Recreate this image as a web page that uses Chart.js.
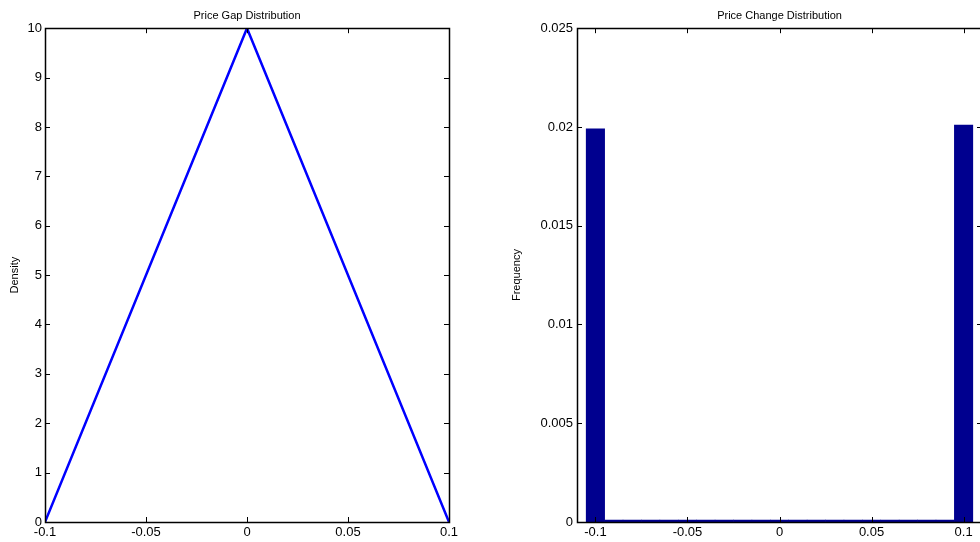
<!DOCTYPE html>
<html>
<head>
<meta charset="utf-8">
<script src="https://cdn.jsdelivr.net/npm/chart.js@4/dist/chart.umd.min.js"></script>
<style>
  html, body { margin: 0; padding: 0; background: #fff; overflow: hidden; width: 980px; height: 542px; }
  canvas { position: absolute; top: 0; }
  #gapChart { left: 0; }
  #changeChart { left: 500px; }
</style>
</head>
<body>
<canvas id="gapChart" width="494" height="542"></canvas>
<canvas id="changeChart" width="560" height="542"></canvas>
<script>
// price gap density (triangle)
const gapX = [-0.1, 0, 0.1];
const gapDensity = [0, 10, 0];

// price change histogram
const changeBins = [-0.1, -0.09, -0.08, -0.07, -0.06, -0.05, -0.04, -0.03, -0.02, -0.01, 0,
  0.01, 0.02, 0.03, 0.04, 0.05, 0.06, 0.07, 0.08, 0.09, 0.1];
const changeFreq = [0.0199, 0.0001, 0.0001, 0.0001, 0.0001, 0.0001, 0.0001, 0.0001, 0.0001, 0.0001, 0.0001,
  0.0001, 0.0001, 0.0001, 0.0001, 0.0001, 0.0001, 0.0001, 0.0001, 0.0001, 0.0201];

// tick labels
const xTicks = [-0.1, -0.05, 0, 0.05, 0.1];
const xTickLabels = ['-0.1', '-0.05', '0', '0.05', '0.1'];
const gapYTicks = [0, 1, 2, 3, 4, 5, 6, 7, 8, 9, 10];
const gapYTickLabels = ['0', '1', '2', '3', '4', '5', '6', '7', '8', '9', '10'];
const freqYTicks = [0, 0.005, 0.01, 0.015, 0.02, 0.025];
const freqYTickLabels = ['0', '0.005', '0.01', '0.015', '0.02', '0.025'];

Chart.defaults.font.family = "'Liberation Sans', Arial, sans-serif";
Chart.defaults.font.size = 11;
Chart.defaults.color = '#000';
Chart.defaults.animation = false;

// matlab style box with inward ticks
const boxTicks = {
  id: 'boxTicks',
  afterDatasetsDraw(chart) {
    const { ctx, chartArea: a, scales: { x, y } } = chart;
    const len = 5;
    ctx.save();
    ctx.strokeStyle = '#000';
    ctx.lineWidth = 1;
    ctx.beginPath();
    x.ticks.forEach(t => {
      const px = Math.round(x.getPixelForValue(t.value)) + 0.5;
      ctx.moveTo(px, a.bottom); ctx.lineTo(px, a.bottom - len);
      ctx.moveTo(px, a.top); ctx.lineTo(px, a.top + len);
    });
    y.ticks.forEach(t => {
      const py = Math.round(y.getPixelForValue(t.value)) + 0.5;
      ctx.moveTo(a.left, py); ctx.lineTo(a.left + len, py);
      ctx.moveTo(a.right, py); ctx.lineTo(a.right - len, py);
    });
    ctx.stroke();
    ctx.lineWidth = 1.5;
    ctx.strokeRect(Math.round(a.left) + 0.5, Math.round(a.top) + 0.5,
      Math.round(a.right - a.left), Math.round(a.bottom - a.top));
    ctx.restore();
  }
};

function fixedTicks(values, labels) {
  return {
    afterBuildTicks: s => { s.ticks = values.map(v => ({ value: v })); },
    ticks: { callback: (v) => labels[values.indexOf(v)] ?? '' }
  };
}

function makeOptions(cfg) {
  const xt = fixedTicks(xTicks, xTickLabels);
  const yt = fixedTicks(cfg.yTicks, cfg.yLabels);
  return {
    responsive: false,
    layout: { padding: { right: cfg.padRight, top: 0, left: 0, bottom: 0 } },
    plugins: {
      legend: { display: false },
      tooltip: { enabled: false },
      title: {
        display: true,
        fullSize: false,
        text: cfg.title,
        font: { size: 11, weight: 'normal' },
        color: '#000',
        padding: { top: 9, bottom: 6 }
      }
    },
    scales: {
      x: {
        type: 'linear',
        min: cfg.xMin,
        max: cfg.xMax,
        offset: false,
        grid: { display: false, drawTicks: false },
        border: { display: false },
        afterBuildTicks: xt.afterBuildTicks,
        afterFit: s => { s.height = 20; },
        ticks: { padding: 3, maxRotation: 0, autoSkip: false, font: { size: 13 }, callback: xt.ticks.callback }
      },
      y: {
        min: 0,
        max: cfg.yMax,
        grid: { display: false, drawTicks: false },
        border: { display: false },
        afterBuildTicks: yt.afterBuildTicks,
        afterFit: s => { s.width = cfg.yWidth; },
        ticks: { padding: cfg.yTickPad, autoSkip: false, font: { size: 13 }, callback: yt.ticks.callback },
        title: {
          display: true,
          text: cfg.yTitle,
          font: { size: 11 },
          color: '#000',
          padding: { top: cfg.yTitlePad, bottom: 0 }
        }
      }
    }
  };
}

new Chart(document.getElementById('gapChart'), {
  type: 'line',
  data: {
    datasets: [{
      data: gapX.map((x, i) => ({ x: x, y: gapDensity[i] })),
      borderColor: '#0000ff',
      borderWidth: 2.5,
      pointRadius: 0,
      tension: 0,
      fill: false
    }]
  },
  options: makeOptions({
    title: 'Price Gap Distribution',
    xMin: -0.1, xMax: 0.1, yMax: 10,
    yTicks: gapYTicks, yLabels: gapYTickLabels, yTickPad: 3,
    yTitle: 'Density', yWidth: 45, yTitlePad: 8, padRight: 45
  }),
  plugins: [boxTicks]
});

new Chart(document.getElementById('changeChart'), {
  type: 'bar',
  data: {
    datasets: [{
      data: changeBins.map((x, i) => ({ x: x, y: changeFreq[i] })),
      backgroundColor: '#00008f',
      borderWidth: 0,
      barPercentage: 1,
      categoryPercentage: 1,
      grouped: false
    }]
  },
  options: makeOptions({
    title: 'Price Change Distribution',
    xMin: -0.11, xMax: 0.11, yMax: 0.025,
    yTicks: freqYTicks, yLabels: freqYTickLabels, yTickPad: 4,
    yTitle: 'Frequency', yWidth: 77, yTitlePad: 10, padRight: 78
  }),
  plugins: [boxTicks]
});
</script>
</body>
</html>
